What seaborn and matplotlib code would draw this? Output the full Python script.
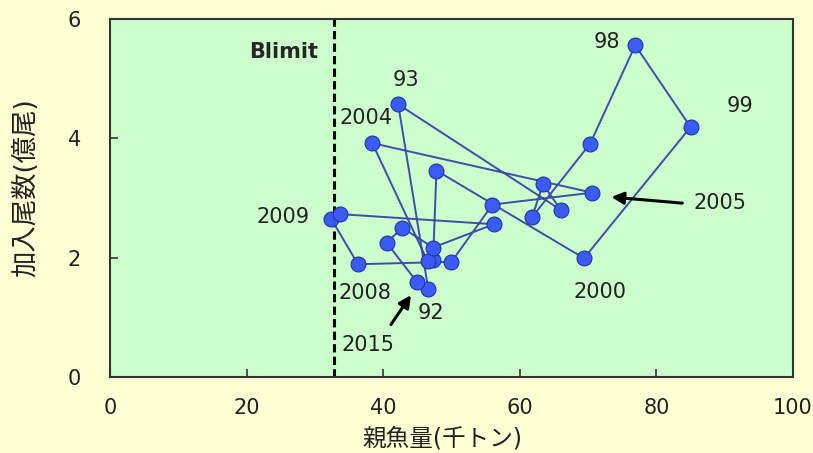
import matplotlib
matplotlib.use('Agg')
import matplotlib.pyplot as plt
import seaborn as sns
import pandas as pd

# 親魚量(千トン) と 加入尾数(億尾), 1992-2015
years = list(range(1992, 2016))
ssb = [46.6, 42.2, 66.0, 63.4, 61.8, 70.3, 76.9, 85.0, 69.4, 47.8, 47.3, 46.5,
       38.4, 70.6, 56.0, 50.0, 36.3, 32.4, 33.7, 56.2, 47.3, 42.8, 40.5, 44.9]
recruits = [1.47, 4.57, 2.80, 3.23, 2.68, 3.91, 5.56, 4.19, 1.99, 3.46, 1.96, 1.94,
            3.92, 3.09, 2.89, 1.93, 1.89, 2.65, 2.73, 2.56, 2.17, 2.50, 2.25, 1.60]
blimit = 32.8

# 年ラベル
label_text = ['93', '2004', '98', '99', '2009', '2005', '2000', '2008', '92', '2015']
label_x = [43.3, 37.5, 72.8, 92.2, 25.3, 89.3, 71.7, 37.3, 47.0, 37.8]
label_y = [4.97, 4.34, 5.61, 4.54, 2.68, 2.91, 1.42, 1.41, 1.07, 0.54]

x_ticks = [0, 20, 40, 60, 80, 100]
y_ticks = [0, 2, 4, 6]

sns.set_style('ticks')
plt.rcParams['font.family'] = ['DejaVu Sans', 'Noto Sans CJK JP']

df = pd.DataFrame({'year': years, 'ssb': ssb, 'rec': recruits})

fig = plt.figure(figsize=(8.13, 4.53), dpi=100)
fig.patch.set_facecolor('#FFFFD4')
ax = fig.add_axes([0.1353, 0.1678, 0.8401, 0.7902])
ax.set_facecolor('#CCFFCC')

sns.lineplot(data=df, x='ssb', y='rec', sort=False, estimator=None,
             color='#3B4FA8', linewidth=1.4, ax=ax, zorder=2)
sns.scatterplot(data=df, x='ssb', y='rec', s=115, color='#3A5CF5',
                edgecolor='#2233A0', linewidth=0.8, ax=ax, zorder=3)

ax.axvline(blimit, color='black', linestyle=(0, (2.7, 1.4)), linewidth=2.2, zorder=1)
ax.text(30.5, 5.45, 'Blimit', fontsize=15, fontweight='bold', ha='right', va='center')

for t, x, y in zip(label_text, label_x, label_y):
    ax.text(x, y, t, fontsize=15, ha='center', va='center', color='#222222')

# 矢印
ax.annotate('', xy=(73.0, 3.02), xytext=(84.2, 2.91),
            arrowprops=dict(arrowstyle='-|>', color='black', lw=2.2, mutation_scale=18))
ax.annotate('', xy=(44.3, 1.41), xytext=(40.9, 0.84),
            arrowprops=dict(arrowstyle='-|>', color='black', lw=2.2, mutation_scale=18))

ax.set_xlim(0, 100)
ax.set_ylim(0, 6)
ax.set_xticks(x_ticks)
ax.set_yticks(y_ticks)
ax.tick_params(axis='both', direction='in', length=6, width=1.2, labelsize=15,
               colors='#333333', labelcolor='#222222')
ax.tick_params(axis='x', pad=15)
ax.tick_params(axis='y', pad=21)
for sp in ax.spines.values():
    sp.set_color('#333333')
    sp.set_linewidth(1.5)

ax.set_xlabel('親魚量(千トン)', fontsize=17, color='#222222')
ax.set_ylabel('加入尾数(億尾)', fontsize=19, color='#222222')
ax.xaxis.set_label_coords(0.486, -0.138)
ax.yaxis.set_label_coords(-0.103, 0.53)

fig.savefig('out.png', dpi=100, facecolor=fig.get_facecolor())
